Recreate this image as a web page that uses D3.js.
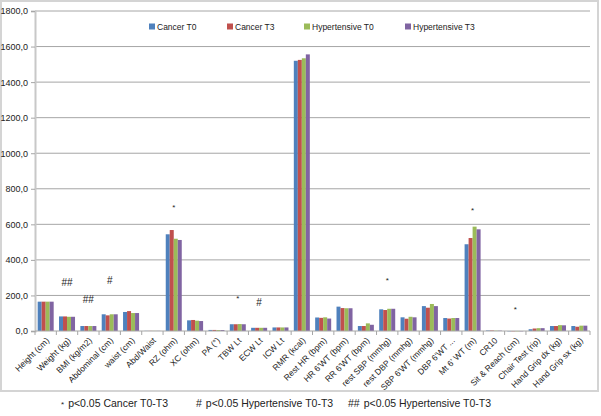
<!DOCTYPE html>
<html>
<head>
<meta charset="utf-8">
<script src="https://cdn.jsdelivr.net/npm/d3@7"></script>
<style>
  body { margin: 0; background: #fff; }
  text { font-family: "Liberation Sans", Arial, sans-serif; fill: #222; }
</style>
</head>
<body>
<svg id="chart" width="601" height="416"></svg>
<script>
// categories and series
const categories = ["Height (cm)", "Weight (kg)", "BMI (kg/m2)", "Abdominal (cm)", "waist (cm)", "Abd/Waist",
  "RZ (ohm)", "XC (ohm)", "PA (°)", "TBW Lt", "ECW Lt", "ICW Lt", "RMR (kcal)", "Rest HR (bpm)",
  "HR 6'WT (bpm)", "RR 6'WT (bpm)", "rest SBP (mmhg)", "rest DBP (mmhg)", "SBP 6'WT (mmhg)",
  "DBP 6'WT ...", "Mt 6' WT (m)", "CR10", "Sit & Reach (cm)", "Chair Test (rip)", "Hand Grip dx (kg)", "Hand Grip sx (kg)"];

const seriesNames = ["Cancer T0", "Cancer T3", "Hypertensive T0", "Hypertensive T3"];
const colors = ["#4F81BD", "#C0504D", "#9BBB59", "#8064A2"];

const cancerT0 = [165, 82, 28, 94, 107, 0.9, 544, 60, 6, 38, 18, 20, 1520, 76, 137, 28, 122, 77, 140, 73, 488, 3, -2, 10, 28, 28];
const cancerT3 = [165, 82, 28, 88, 112, 0.9, 568, 62, 6, 38, 18, 20, 1525, 74, 129, 28, 118, 69, 131, 70, 523, 3, -2, 14, 28, 24];
const hyperT0 = [165, 80, 28, 94, 101, 0.9, 519, 58, 5.5, 39, 18, 20, 1534, 77, 128, 43, 125, 80, 152, 73, 587, 2, -2, 16, 33, 30];
const hyperT3 = [165, 80, 28, 94, 101, 0.9, 512, 56, 5.5, 38, 18, 20, 1556, 70, 128, 35, 125, 77, 140, 73, 572, 2, -2, 16, 32, 30];

const yTicks = [0, 200, 400, 600, 800, 1000, 1200, 1400, 1600, 1800];

// significance marks: category, symbol, value height where it sits
const marks = [
  { cat: "Weight (kg)", sym: "##", val: 255 },
  { cat: "BMI (kg/m2)", sym: "##", val: 160 },
  { cat: "Abdominal (cm)", sym: "#", val: 265 },
  { cat: "RZ (ohm)", sym: "*", val: 680 },
  { cat: "TBW Lt", sym: "*", val: 170 },
  { cat: "ECW Lt", sym: "#", val: 140 },
  { cat: "rest SBP (mmhg)", sym: "*", val: 270 },
  { cat: "Mt 6' WT (m)", sym: "*", val: 665 },
  { cat: "Sit & Reach (cm)", sym: "*", val: 105 }
];

const footNotes = [
  { sym: "*", text: "p<0.05 Cancer T0-T3" },
  { sym: "#", text: "p<0.05 Hypertensive T0-T3" },
  { sym: "##", text: "p<0.05 Hypertensive T0-T3" }
];

const series = [cancerT0, cancerT3, hyperT0, hyperT3];

const svg = d3.select("#chart");
const margin = { left: 35, right: 11, top: 11, bottom: 85 };
const W = 601, H = 416;
const plotBottom = 331;

// chart frame
svg.append("rect")
  .attr("x", 1).attr("y", 1).attr("width", 597).attr("height", 390)
  .attr("fill", "none").attr("stroke", "#d4d4d4").attr("stroke-width", 2);

const x = d3.scaleBand()
  .domain(categories)
  .range([margin.left, W - margin.right])
  .paddingInner(0.25)
  .paddingOuter(0.125);

const x1 = d3.scaleBand()
  .domain(d3.range(series.length))
  .range([0, x.bandwidth()]);

const y = d3.scaleLinear()
  .domain([0, 1800])
  .range([plotBottom, margin.top]);

// gridlines
svg.append("g")
  .selectAll("line")
  .data(yTicks.slice(1))
  .join("line")
  .attr("x1", margin.left).attr("x2", W - margin.right)
  .attr("y1", d => y(d)).attr("y2", d => y(d))
  .attr("stroke", "#a6a6a6").attr("stroke-width", 1);

// y axis
const yAxis = svg.append("g")
  .attr("transform", `translate(${margin.left},0)`)
  .call(d3.axisLeft(y).tickValues(yTicks).tickSize(4).tickPadding(3)
    .tickFormat(d => d3.format(".1f")(d).replace(".", ",")));
yAxis.select(".domain").attr("stroke", "#c8c8c8").attr("stroke-width", 2);
yAxis.selectAll(".tick line").attr("stroke", "#a6a6a6");
yAxis.selectAll("text").style("font-size", "9px").attr("fill", "#222");

// bars
const groups = svg.append("g")
  .selectAll("g")
  .data(categories)
  .join("g")
  .attr("transform", d => `translate(${x(d)},0)`);

groups.selectAll("rect")
  .data((d, i) => series.map((s, k) => ({ k: k, v: s[i] })))
  .join("rect")
  .attr("x", d => x1(d.k))
  .attr("width", x1.bandwidth())
  .attr("y", d => y(Math.max(0, d.v)))
  .attr("height", d => Math.abs(y(d.v) - y(0)))
  .attr("fill", d => colors[d.k]);

// x axis line and ticks between categories
const step = x.step();
svg.append("line")
  .attr("x1", margin.left).attr("x2", W - margin.right)
  .attr("y1", plotBottom).attr("y2", plotBottom)
  .attr("stroke", "#a6a6a6");
svg.append("g")
  .selectAll("line")
  .data(d3.range(categories.length + 1))
  .join("line")
  .attr("x1", i => margin.left + i * step).attr("x2", i => margin.left + i * step)
  .attr("y1", plotBottom).attr("y2", plotBottom + 4)
  .attr("stroke", "#a6a6a6");

// x labels, rotated
svg.append("g")
  .selectAll("text")
  .data(categories)
  .join("text")
  .attr("transform", d => `translate(${x(d) + x.bandwidth() / 2 + 2},${plotBottom + 8}) rotate(-45)`)
  .attr("text-anchor", "end")
  .attr("dy", "0.35em")
  .style("font-size", "8.5px")
  .text(d => d);

// significance marks
svg.append("g")
  .selectAll("text")
  .data(marks)
  .join("text")
  .attr("x", d => x(d.cat) + x.bandwidth() / 2)
  .attr("y", d => y(d.val))
  .attr("text-anchor", "middle")
  .style("font-size", d => d.sym === "*" ? "8px" : "10px")
  .text(d => d.sym);

// legend
const legendX = [149, 227, 304, 405];
const legend = svg.append("g")
  .selectAll("g")
  .data(seriesNames)
  .join("g")
  .attr("transform", (d, i) => `translate(${legendX[i]},27)`);
legend.append("rect")
  .attr("x", 0).attr("y", -3.5).attr("width", 6).attr("height", 6)
  .attr("fill", (d, i) => colors[i]);
legend.append("text")
  .attr("x", 8).attr("y", 0).attr("dy", "0.35em")
  .style("font-size", "8.5px")
  .text(d => d);

// footnotes
const footX = [61, 196, 348];
const foot = svg.append("g")
  .selectAll("text")
  .data(footNotes)
  .join("text")
  .attr("x", (d, i) => footX[i])
  .attr("y", 403)
  .attr("dy", "0.35em")
  .style("font-size", "10.5px");
foot.append("tspan").style("font-size", (d) => d.sym === "*" ? "8px" : "10.5px").text(d => d.sym);
foot.append("tspan").attr("dx", 4).text(d => d.text);
</script>
</body>
</html>
